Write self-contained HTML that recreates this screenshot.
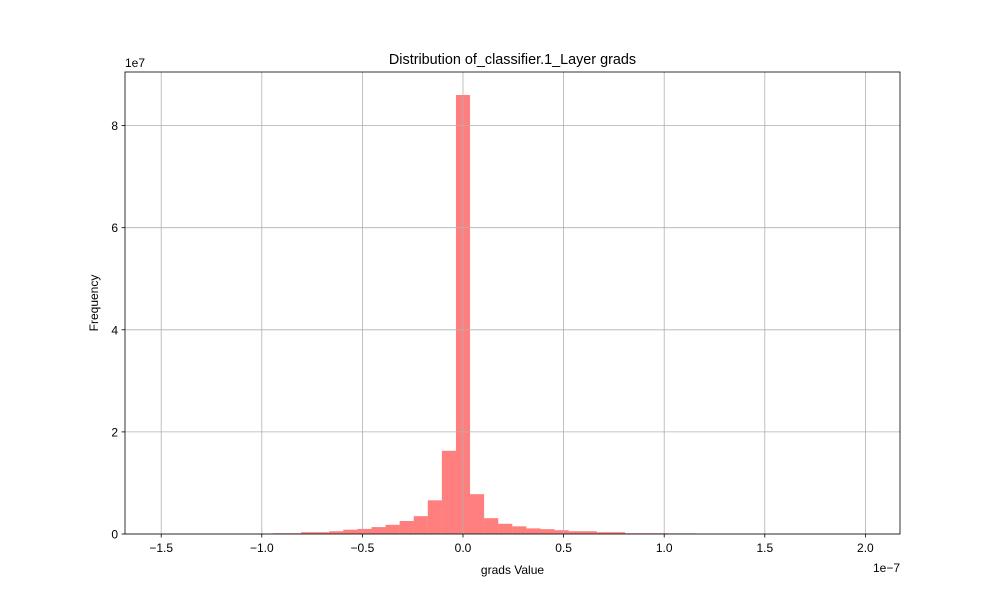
<!DOCTYPE html>
<html><head><meta charset="utf-8"><style>
body{margin:0;background:#fff}
svg{display:block;font-family:"Liberation Sans","DejaVu Sans",sans-serif}
</style></head><body>
<svg id="chart" width="1000" height="600">
<rect width="1000" height="600" fill="#fff"/>
<g id="bars"></g><g id="grid"></g><g id="axes"></g>
<text x="512.5" y="64" text-anchor="middle" font-size="14.4">Distribution of_classifier.1_Layer grads</text>
<text x="512.5" y="574" text-anchor="middle" font-size="12">grads Value</text>
<text x="98" y="303" text-anchor="middle" font-size="12" transform="rotate(-90 98 303)">Frequency</text>
<text x="125" y="67" font-size="12">1e7</text>
<text x="900" y="572" text-anchor="end" font-size="12">1e−7</text>
</svg>
<script>
const binStart = -1.505;
const binWidth = 0.07;
// counts in units of 1e6
const counts = [0,0,0,0,0,0,0,0.1,0.15,0.15,0.35,0.35,0.55,0.85,1.0,1.35,1.8,2.55,3.5,6.6,16.3,86,7.8,3.1,2.0,1.5,1.1,0.95,0.75,0.55,0.55,0.35,0.35,0.15,0.15,0.15,0.12,0.12,0,0,0,0,0,0,0,0,0,0,0,0];
// y ticks in units of 1e7
const xTicks = [-1.5,-1.0,-0.5,0.0,0.5,1.0,1.5,2.0];
const yTicks = [0,2,4,6,8];
const L=125,R=900,T=72,B=534;
const xs=v=>463+(v)*201.2;
const ys=v=>B-v*5.105; // v in 1e6
const NS="http://www.w3.org/2000/svg";
function mk(tag,attrs,parent){const e=document.createElementNS(NS,tag);for(const k in attrs)e.setAttribute(k,attrs[k]);parent.appendChild(e);return e;}
const grid=document.getElementById('grid'),bars=document.getElementById('bars'),axes=document.getElementById('axes');
xTicks.forEach(t=>{
 const g=mk('line',{x1:xs(t),x2:xs(t),y1:T,y2:B,stroke:'#b0b0b0','stroke-width':0.8},grid);
 
 
 mk('line',{x1:xs(t),x2:xs(t),y1:B,y2:B+3.5,stroke:'#000','stroke-width':0.8},axes);
 const tx=mk('text',{x:xs(t),y:B+18,'text-anchor':'middle','font-size':12},axes);
 tx.textContent=t.toFixed(1).replace('-','−');
 
 
});
yTicks.forEach(t=>{
 const y=ys(t*10);
 const g=mk('line',{x1:L,x2:R,y1:y,y2:y,stroke:'#b0b0b0','stroke-width':0.8},grid);
 
 
 mk('line',{x1:L-3.5,x2:L,y1:y,y2:y,stroke:'#000','stroke-width':0.8},axes);
 const tx=mk('text',{x:L-7,y:y+4.5,'text-anchor':'end','font-size':12},axes);
 tx.textContent=String(t);
 
 
});
counts.forEach((c,i)=>{
 if(c<=0)return;
 const x0=xs(binStart+i*binWidth),x1=xs(binStart+(i+1)*binWidth);
 const r=mk('rect',{x:x0,y:ys(c),width:x1-x0,height:B-ys(c),fill:'#ff0000','fill-opacity':0.5},bars);
 
 
});
const fr=mk('rect',{x:L,y:T,width:R-L,height:B-T,fill:'none',stroke:'#000','stroke-width':0.8},axes);


</script>
</body></html>
